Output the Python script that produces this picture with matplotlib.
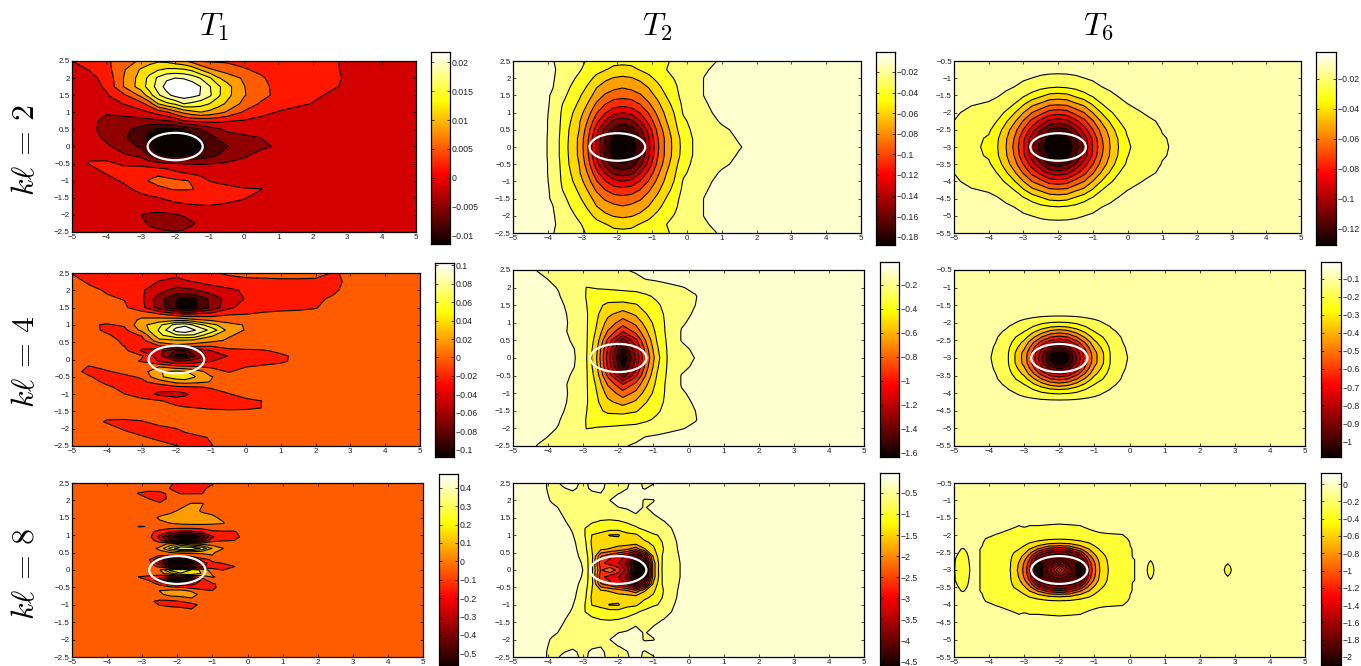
import numpy as np
import matplotlib
matplotlib.use('Agg')
import matplotlib.pyplot as plt
from matplotlib.patches import Ellipse

plt.rcParams['font.family'] = ['Liberation Sans', 'DejaVu Sans']
plt.rcParams['mathtext.fontset'] = 'cm'

# values, on small grids
# T1, kl=2 (in 1e-3)
t1k2_x = [-5, -4.5, -4, -3.5, -3, -2.75, -2.5, -2.25, -2, -1.75, -1.5, -1.25, -1, -.75, -.5, 0, .5, 1, 2, 3, 5]
t1k2_y = [2.5, 2.25, 2, 1.75, 1.5, 1.25, 1, .75, .5, .25, 0, -.25, -.5, -.75, -1, -1.25, -1.5, -1.75, -2, -2.25, -2.5]
t1k2_z = [
    [.6, 1.5, 3.2, 5, 7.2, 8.5, 9.3, 9, 8, 7, 5.4, 3.5, 3.2, 3.2, 3.2, 2.8, 2.3, 2, 1.5, .3, -1],
    [-.2, .7, 2.5, 6.3, 10, 11.3, 12.4, 13.2, 13.3, 13, 11.8, 9.3, 7.2, 6, 5.2, 3.9, 3, 2.2, 1.7, .3, -1],
    [-1, -.2, 1.5, 6.7, 11, 13.5, 16.3, 18.2, 18.8, 18.5, 17.5, 15.5, 13.2, 10, 8.5, 6.2, 4, 2.5, 1.7, .4, -1],
    [-1, -.5, 1, 6.7, 11.2, 14, 17, 20, 21.3, 21.8, 20.5, 18.7, 16, 13.4, 10.8, 6.8, 4.5, 2.7, 1.8, .2, -1],
    [-1, -.9, .3, 3, 7.4, 11.4, 15.2, 17.8, 19.8, 20.5, 19.8, 18.6, 16.3, 13.3, 10.7, 6.9, 4.7, 2.7, 1.1, -.5, -1],
    [-1, -1, -.5, .7, 2.6, 5, 9.7, 11.9, 13.2, 15.8, 15, 14, 12.7, 11, 9.2, 5.8, 3.2, 1.9, .5, -1, -1],
    [-1, -1.5, -2.2, -1.5, -.3, .6, 1.8, 3.2, 5.5, 7.4, 8.8, 9.6, 8.8, 7.6, 6.3, 3.2, 1.5, .4, -.3, -1, -1],
    [-1, -1.8, -3, -3.4, -3.7, -3.4, -3, -2.6, -1.8, .6, 1.1, 1.4, 1.5, 1.3, .8, .4, -.3, -1, -1, -1, -1],
    [-1, -1.5, -3.6, -4.7, -6.5, -8, -9, -9.3, -9, -8.5, -7, -5.4, -3.9, -2.8, -1.9, -1.2, -1, -1, -1, -1, -1],
    [-1, -1.2, -3, -5, -7.5, -9.5, -10.8, -11.3, -11.4, -11, -10, -8.5, -6.8, -5.2, -3.8, -3.1, -2.4, -1.4, -1, -1, -1],
    [-1, -1, -1.9, -3.6, -6, -8, -10, -11, -11.4, -11, -10.5, -9, -8, -6.8, -5.6, -3.7, -3, -2, -1, -1, -1],
    [-1, .4, -.6, -2.1, -3.2, -6, -8.5, -9.3, -9.5, -9.2, -8.6, -7.6, -6.6, -5.4, -4.2, -2.9, -1.5, -1, -1, -1, -1],
    [-.8, .7, 1.2, .2, -.2, -.9, -1.6, -2, -2.3, -2.5, -2.6, -2.6, -2.5, -2.3, -2.1, -1.5, -1, -1, -1, -1, -1],
    [-1, -.5, .9, 1.8, 2.5, 2.7, 2.9, 2.2, 1, .3, -.3, -.6, -.9, -1, -1, -1, -1, -1, -1, -1, -1],
    [-1, -1, -.4, 1, 2.8, 3.8, 4.5, 4.4, 4.2, 3.8, 3.5, 2, .5, .2, 0, -.5, -1, -1, -1, -1, -1],
    [-1, -1, -1, -.3, 1.5, 2.2, 3, 3.5, 3.8, 3.8, 3.7, 3.1, 2, 1.5, 1.2, .8, .7, -1, -1, -1, -1],
    [-1, -1, -1, -1, -.3, .1, .5, 1, 1.5, 1.8, 2, 1.8, 1.6, 1.3, 1.1, .8, -.5, -1, -1, -1, -1],
    [-1, -1, -1, -1, -1, -1, -1, -.6, -.2, 0, .2, .4, .5, .4, .3, -.3, -1, -1, -1, -1, -1],
    [-1, -1, -1, -1.5, -2.4, -2.8, -3, -2.9, -2.6, -2.2, -1.8, -1.3, -1, -1, -1, -1, -1, -1, -1, -1, -1],
    [-1, -1, -1, -1, -1.8, -2.8, -3.5, -3.8, -3.8, -3.3, -2.6, -2, -1.4, -1, -1, -1, -1, -1, -1, -1, -1],
    [-1, -1, -1, -1, -1, -1.4, -1.8, -2.1, -2.3, -2.1, -1.9, -1.4, -1, -1, -1, -1, -1, -1, -1, -1, -1],
]

# T1, kl=4 (in 1e-3)
t1k4_x = [-5, -4.5, -4, -3.5, -3, -2.5, -2, -1.75, -1.5, -1, -.5, 0, .5, 1, 1.5, 2, 2.5, 3, 5]
t1k4_y = [2.5, 2.25, 2, 1.75, 1.5, 1.3, 1.15, 1, .85, .7, .55, .4, .25, .1, -.05, -.2, -.35, -.5, -.65, -.8, -1, -1.2, -1.4, -1.6, -1.8, -2, -2.25, -2.5]
t1k4_z = [
    [-13, -20, -21, -22, -23, -24, -25, -25, -22, -14, -10, -8, -7, -7, -7, -8, -13, -11, -5],
    [-6, -15, -18, -20, -26, -32, -38, -33, -31, -24, -18, -16, -16, -15, -15, -15, -15, -10, -5],
    [-5, -8, -14, -18, -29, -43, -58, -56, -53, -42, -36, -28, -18, -16, -15, -14.5, -14, -9, -5],
    [-5, -6, -10, -13, -27, -62, -88, -94, -92, -64, -42, -30, -17, -15, -15, -14, -11, -7, -5],
    [-5, -5, -6, -9, -25, -60, -90, -100, -95, -65, -36, -22, -15, -14.5, -14.5, -13, -7, -5.5, -5],
    [-5, -5, -5, -7, 0, -8, -22, -28, -26, -22, -13, -12, -11, -10, -9, -8, -6, -5, -5],
    [-5, -5, -6, -3, 10, 14, 18, 16, 10, 2, -4, -5, -5, -5, -5, -5, -5, -5, -5],
    [-5, -10, -14, -10, 20, 40, 72, 78, 62, 32, 14, 5, -4, -5, -5, -5, -5, -5, -5],
    [-5, -6, -16, -17, 12, 47, 92, 100, 86, 58, 19, 5, -4, -5, -5, -5, -5, -5, -5],
    [-5, -5, -10, -19, -11, 40, 62, 63, 62, 30, 9, 1, -4, -5, -5, -5, -5, -5, -5],
    [-5, -5, -7, -15, -20, 20, 24, 24, 21, 13, 4, -3, -5, -5, -5, -5, -5, -5, -5],
    [-5, -5, -5, -13, -28, -12, 2, 0, -3, -10, -7, -6, -5, -5, -5, -5, -5, -5, -5],
    [-5, -5, -5, -6, -33, -45, -72, -75, -62, -32, -16, -15, -14, -9, -6, -5, -5, -5, -5],
    [-5, -5, -5, -5, -10, -42, -95, -95, -72, -40, -31, -17, -16, -15, -9, -5, -5, -5, -5],
    [-5, -5, -5, -5, -14, -33, -50, -48, -42, -32, -22, -17, -16, -15, -8, -5, -5, -5, -5],
    [-6, -13, -7, -5, 3, 5, -8, -10, -12, -16, -14, -13, -11, -8, -5, -5, -5, -5, -5],
    [-5, -18, -14, -8, -3, 25, 30, 28, 20, -3, -13.5, -7, -5, -5, -5, -5, -5, -5, -5],
    [-5, -11, -19, -16, -10, 22, 38, 40, 28, 8, -5, -5, -5, -5, -5, -5, -5, -5, -5],
    [-5, -6, -16, -22, -16, -4, 12, 14, 12, 6, -5, -5, -5, -5, -5, -5, -5, -5, -5],
    [-5, -5, -9, -18, -21, -23, -17, -15, -14, -11, -7, -5.5, -5, -5, -5, -5, -5, -5, -5],
    [-5, -5, -5, -12, -19, -36, -40, -34, -27, -18, -13, -8, -5, -5, -5, -5, -5, -5, -5],
    [-5, -5, -5, -5.5, -8, -10, -20, -25, -20, -18, -16, -15, -12, -5, -5, -5, -5, -5, -5],
    [-5, -5, -5, -5, -5, -5, -8, -10, -12, -14, -15, -14.5, -12, -5, -5, -5, -5, -5, -5],
    [-5, -5, -8, -5, -5, -5, -5, -5, -5, -5, -5, -5, -5, -5, -5, -5, -5, -5, -5],
    [-5, -5, -14, -16, -13.5, -8, -5, -5, -5, -5, -5, -5, -5, -5, -5, -5, -5, -5, -5],
    [-5, -5, -6, -14, -18, -16, -12.5, -8, -5, -5, -5, -5, -5, -5, -5, -5, -5, -5, -5],
    [-5, -5, -5, -5, -11, -15, -18, -18, -16, -11, -5, -5, -5, -5, -5, -5, -5, -5, -5],
    [-5, -5, -5, -5, -5, -8, -12, -13, -14, -13, -6, -5, -5, -5, -5, -5, -5, -5, -5],
]

# T1, kl=8 (in 1e-2)
t1k8_x = [-5, -3.4, -3.1, -2.8, -2.5, -2.2, -1.9, -1.6, -1.3, -1, -.7, -.4, -.1, .2, 5]
t1k8_y = [2.5, 2.35, 2.2, 2.05, 1.9, 1.7, 1.5, 1.35, 1.25, 1.1, .95, .85, .75, .62, .5, .4, .3, .2, .1, 0, -.1, -.2, -.3, -.4, -.5, -.6, -.7, -.8, -.9, -1, -1.1, -1.25, -2.5]
t1k8_z = [
    [0, 0, 0, 0, 0, -4, -8, -9, -9, -6, 0, 0, 0, 0, 0],
    [0, 0, 0, 0, 0, -5.6, -9, -9, -7, -3, 0, 0, 0, 0, 0],
    [0, 0, -6, -9, -8, -3, -5.6, -5.6, -5.6, -1, 0, 0, 0, 0, 0],
    [0, 0, 0, -5.5, -9, -3, 0, 0, 0, 0, 0, 0, 0, 0, 0],
    [0, 0, 0, 0, -4, 1, 2, 6, 6, 1, 0, 0, 0, 0, 0],
    [0, 0, 0, 0, 0, 3, 7, 10, 4, 3, 1, 0, 0, 0, 0],
    [0, 0, 0, 0, 7, 9, 10, 11, 10, 7, 3.5, 0, 0, 0, 0],
    [0, 0, 0, 0, 3, 5.5, 7, 7.5, 7.5, 7, 6, 1, 0, 0, 0],
    [0, 0, -5.6, -5, 0, 1, 2, 2, 2, 2, 1, 0, 0, 0, 0],
    [0, 0, -1, -3, -8, -15, -18, -18, -14, -7, -6, -6, -3, 0, 0],
    [0, 0, 0, -2, -20, -45, -58, -58, -45, -17, -9, -7, -4, 0, 0],
    [0, 0, 0, 0, -12, -35, -50, -50, -30, -8, -6, -5.5, 0, 0, 0],
    [0, 0, 0, 0, 0, 8, 15, 6, 2, 0, 0, 0, 0, 0, 0],
    [0, 0, 0, 0, 8, 30, 47, 47, 35, 15, 5.5, 0, 0, 0, 0],
    [0, 0, 0, 0, 2, 5, 8, 8, 7, 6, 3, 0, 0, 0, 0],
    [0, 0, 0, -2, -6, -8, -6, -3, 1, 5, 2, 0, 0, 0, 0],
    [0, 0, 0, -5, -30, -55, -58, -45, -8, -4, -2, 0, 0, 0, 0],
    [0, 0, 0, 0, -25, -58, -58, -55, -25, -6, -5, 0, 0, 0, 0],
    [0, 0, 0, 0, -8, -30, -35, -30, -18, -12, -7, -6, 0, 0, 0],
    [0, 0, 0, 0, 5, 30, 37, 26, 12, 0, -5.5, 0, 0, 0, 0],
    [0, 0, 0, 0, 1, 12, 25, 26, 15, 4, 0, 0, 0, 0, 0],
    [0, 0, -5.5, -8, -12, -18, -15, -8, -2, 6, 3, 0, 0, 0, 0],
    [0, 0, -1, -5.5, -25, -55, -58, -45, -12, 2, 0, 0, 0, 0, 0],
    [0, 0, 0, 0, -8, -20, -22, -20, -10, -7, -1, 0, 0, 0, 0],
    [0, 0, 0, 0, 0, -2, -5, -8, -10, -8, 0, 0, 0, 0, 0],
    [0, 0, 0, 0, 5.5, 8, 9, 4, -2, -5, 0, 0, 0, 0, 0],
    [0, 0, 0, 0, 3, 10, 11, 11, 1, 0, 0, 0, 0, 0, 0],
    [0, 0, 0, 0, 0, 0, 2, 5.6, 0, 0, 0, 0, 0, 0, 0],
    [0, 0, 0, -3, -8, -7, -5, -2, 0, 0, 0, 0, 0, 0, 0],
    [0, 0, 0, 0, -6, -9, -9, -8, -3, 0, 0, 0, 0, 0, 0],
    [0, 0, 0, 0, 0, -2, -4, -6, 0, 0, 0, 0, 0, 0, 0],
    [0, 0, 0, 0, 0, 0, 0, 0, 0, 0, 0, 0, 0, 0, 0],
    [0, 0, 0, 0, 0, 0, 0, 0, 0, 0, 0, 0, 0, 0, 0],
]

# T2 panels: upper half only, the lower half is the same (in 1e-3 for kl=2)
t2k2_x = [-5, -4.5, -4.1, -3.85, -3.6, -3.35, -3.1, -2.85, -2.6, -2.35, -2.1, -1.85, -1.6, -1.35, -1.1, -.85, -.6, -.35, -.1, .15, .5, 1, 1.5, 2, 3, 5]
t2k2_y = [0, .25, .5, .75, 1, 1.25, 1.5, 1.75, 2, 2.25, 2.5]
t2k2_z = [
    [-8, -10, -14, -21, -36, -52, -66, -94, -130, -165, -181, -186, -181, -165, -130, -98, -74, -57, -42, -32, -28, -22, -17, -12, -10, -8],
    [-8, -10, -14, -21, -36, -51, -66, -92, -127, -158, -178, -180, -178, -158, -127, -96, -74, -56, -41, -32, -27, -21, -15, -12, -10, -8],
    [-8, -10, -14, -20, -35, -50, -63, -87, -119, -147, -165, -172, -165, -147, -119, -91, -70, -52, -38, -30, -25, -18, -14, -11, -10, -8],
    [-8, -10, -14, -20, -34, -47, -61, -80, -105, -127, -146, -150, -146, -127, -105, -83, -64, -49, -35, -27, -21, -15, -13, -11, -10, -8],
    [-8, -10, -14, -19, -33, -44, -56, -72, -93, -109, -120, -125, -120, -109, -93, -75, -59, -46, -30, -24, -18, -14, -12, -11, -10, -8],
    [-8, -10, -14, -18, -31, -40, -50, -64, -81, -94, -102, -104, -102, -94, -81, -67, -53, -42, -28, -21, -17, -13, -12, -11, -10, -8],
    [-8, -10, -14, -17.5, -28, -35, -45, -56, -70, -81, -87, -89, -87, -81, -70, -59, -47, -37, -26, -19, -16, -13, -12, -11, -10, -8],
    [-8, -10, -14, -16, -25, -32, -40, -49, -62, -69, -74, -77, -74, -69, -62, -51, -42, -34, -26, -19, -16, -13, -12, -11, -10, -8],
    [-8, -10.5, -13, -15, -22, -28, -35, -43, -51, -60, -64, -66, -64, -60, -51, -44, -36, -31, -26, -19, -16, -14, -12, -11, -10, -8],
    [-8, -12, -13.5, -15, -19, -25, -30, -37, -43, -46.5, -52, -53, -52, -46.5, -43, -38, -32, -29, -26, -19, -17, -14, -12, -11, -10, -8],
    [-8, -14, -15, -16, -18, -24, -29, -33, -38, -41, -42, -43, -42, -41, -38, -34, -33, -30, -26, -20, -18, -15.5, -12, -11, -10, -8],
]

t2k4_x = [-5, -4.3, -3.7, -3.2, -2.9, -2.6, -2.3, -1.87, -1.5, -1.2, -.9, -.6, -.2, .2, .6, 2, 5]
t2k4_y = [0, .25, .5, .75, 1, 1.25, 1.5, 1.75, 2, 2.25, 2.5]
t2k4_z = [
    [-.05, -.07, -.10, -.148, -.28, -.57, -1.02, -1.63, -1.23, -.79, -.47, -.275, -.21, -.14, -.11, -.06, -.04],
    [-.05, -.07, -.105, -.15, -.275, -.55, -.98, -1.53, -1.15, -.74, -.44, -.27, -.18, -.12, -.10, -.06, -.04],
    [-.05, -.07, -.11, -.165, -.27, -.50, -.85, -1.3, -1.0, -.66, -.41, -.26, -.14, -.11, -.09, -.06, -.04],
    [-.05, -.07, -.115, -.18, -.27, -.45, -.70, -.96, -.78, -.57, -.38, -.25, -.14, -.11, -.09, -.06, -.04],
    [-.05, -.07, -.12, -.17, -.27, -.42, -.60, -.76, -.65, -.49, -.36, -.25, -.155, -.125, -.09, -.06, -.04],
    [-.05, -.075, -.125, -.17, -.27, -.40, -.52, -.61, -.53, -.42, -.33, -.25, -.17, -.135, -.09, -.06, -.04],
    [-.05, -.08, -.13, -.18, -.28, -.39, -.44, -.46, -.43, -.36, -.30, -.24, -.18, -.145, -.10, -.06, -.04],
    [-.05, -.09, -.14, -.20, -.29, -.35, -.36, -.34, -.33, -.30, -.26, -.21, -.17, -.15, -.10, -.06, -.04],
    [-.055, -.11, -.15, -.22, -.285, -.27, -.26, -.25, -.24, -.22, -.19, -.17, -.15, -.13, -.09, -.06, -.04],
    [-.06, -.125, -.17, -.18, -.19, -.19, -.19, -.19, -.17, -.14, -.13, -.12, -.11, -.10, -.08, -.06, -.04],
    [-.06, -.15, -.17, -.17, -.17, -.17, -.17, -.155, -.13, -.11, -.10, -.10, -.09, -.08, -.07, -.06, -.04],
]

t2k8_x = [-5, -4.5, -4.2, -3.9, -3.6, -3.3, -3, -2.75, -2.5, -2.25, -2, -1.75, -1.5, -1.25, -1, -.75, -.5, -.25, 0, .5, 5]
t2k8_y = [0, .2, .4, .6, .8, 1, 1.2, 1.4, 1.6, 1.8, 2, 2.2, 2.35, 2.5]
t2k8_z = [
    [-.05, -.07, -.1, -.14, -.2, -.3, -.42, -1.1, -2.4, -2.0, -2.5, -3.3, -4.6, -4.3, -1.75, -.78, -.58, -.42, -.3, -.2, -.05],
    [-.05, -.07, -.1, -.14, -.2, -.3, -.44, -1.1, -2.6, -2.9, -3.1, -3.6, -4.6, -4.2, -1.75, -.8, -.58, -.42, -.3, -.2, -.05],
    [-.05, -.07, -.1, -.14, -.2, -.31, -.5, -1.1, -2.3, -2.6, -2.9, -3.2, -3.9, -3.2, -1.5, -.8, -.56, -.4, -.3, -.2, -.05],
    [-.05, -.07, -.1, -.14, -.21, -.33, -.55, -1.2, -1.5, -1.6, -1.7, -1.9, -2.2, -1.6, -1.25, -.85, -.52, -.38, -.3, -.2, -.05],
    [-.05, -.07, -.1, -.15, -.23, -.35, -.6, -1.25, -1.3, -1.3, -1.4, -1.3, -1.3, -1.25, -1.1, -.8, -.48, -.38, -.3, -.2, -.05],
    [-.05, -.07, -.1, -.16, -.26, -.4, -.7, -1.2, -1.3, -1.6, -1.62, -1.3, -1.25, -1.0, -.85, -.75, -.45, -.36, -.28, -.2, -.05],
    [-.05, -.07, -.1, -.18, -.3, -.45, -.76, -.95, -1.0, -1.0, -1.0, -.95, -.85, -.72, -.6, -.52, -.42, -.34, -.27, -.2, -.05],
    [-.05, -.07, -.11, -.22, -.36, -.52, -.65, -.75, -.82, -.85, -.82, -.75, -.65, -.55, -.47, -.43, -.37, -.3, -.25, -.18, -.05],
    [-.05, -.075, -.13, -.27, -.42, -.55, -.58, -.62, -.65, -.62, -.6, -.52, -.42, -.44, -.42, -.35, -.3, -.25, -.2, -.15, -.05],
    [-.05, -.08, -.17, -.34, -.47, -.52, -.55, -.55, -.52, -.5, -.42, -.38, -.36, -.43, -.36, -.28, -.24, -.2, -.17, -.13, -.05],
    [-.05, -.085, -.24, -.45, -.5, -.5, -.5, -.48, -.46, -.42, -.3, -.28, -.3, -.44, -.43, -.28, -.2, -.17, -.15, -.12, -.05],
    [-.05, -.09, -.3, -.48, -.5, -.47, -.5, -.46, -.42, -.46, -.42, -.38, -.3, -.3, -.28, -.22, -.18, -.15, -.13, -.1, -.05],
    [-.05, -.1, -.32, -.5, -.44, -.36, -.5, -.36, -.36, -.5, -.5, -.42, -.33, -.44, -.32, -.2, -.16, -.13, -.11, -.09, -.05],
    [-.05, -.1, -.32, -.5, -.38, -.3, -.5, -.33, -.33, -.5, -.5, -.45, -.3, -.48, -.44, -.2, -.15, -.12, -.1, -.08, -.05],
]

# T6 panels: y from -3 upwards only, the part below -3 is the same (in 1e-3 for kl=2)
t6k2_x = [-5, -4.5, -4, -3.75, -3.5, -3.25, -3, -2.75, -2.5, -2.25, -2, -1.75, -1.5, -1.25, -1, -.75, -.5, -.25, 0, .5, 1, 2, 5]
t6k2_y = [-3, -2.75, -2.5, -2.25, -2, -1.75, -1.5, -1.25, -1, -.75, -.5]
t6k2_z = [
    [-15, -21, -26, -34, -45, -59, -77, -96, -116, -127, -131, -127, -116, -96, -77, -59, -45, -34, -25, -18, -13.5, -10.5, -9],
    [-14.7, -20.5, -25, -33, -44, -57, -75, -94, -111, -124, -127, -124, -111, -94, -75, -57, -44, -33, -24, -17.5, -13.3, -10.5, -9],
    [-14, -19, -22, -29, -40, -52, -67, -83, -98, -111, -116, -111, -98, -83, -67, -52, -40, -29, -22, -16, -12.7, -10, -9],
    [-13, -16.5, -20, -24, -33, -44, -57, -70, -81, -91, -94, -91, -81, -70, -57, -44, -33, -24, -19, -14.5, -12, -9.5, -8.5],
    [-12, -14.5, -16, -20, -25, -34, -45, -56, -63, -71, -73, -71, -63, -56, -45, -34, -25, -20, -15.5, -12.5, -10.5, -9, -8],
    [-11, -12.5, -13.5, -15.5, -19, -24, -33, -42, -47, -53, -54, -53, -47, -42, -33, -24, -19, -15.5, -13, -11, -9.5, -8.5, -8],
    [-10, -11, -11.5, -12.3, -14.5, -17.5, -22, -27, -32, -37, -38, -37, -32, -27, -22, -17.5, -14.5, -12.3, -11, -9.5, -9, -8, -7],
    [-9, -9.5, -10, -10, -11.5, -13, -15, -18, -20.5, -22, -23, -22, -20.5, -18, -15, -13, -11.5, -10, -9.5, -9, -8, -7.5, -7],
    [-8.5, -9, -9, -9, -9.5, -10.5, -12, -13, -14, -14.7, -15, -14.7, -14, -13, -12, -10.5, -9.5, -9, -8.5, -8, -7.5, -7, -6.5],
    [-8, -8.5, -8.5, -8.8, -9, -9.5, -10, -10.5, -10.8, -11, -11, -11, -10.8, -10.5, -10, -9.5, -9, -8.8, -8.3, -7.7, -7.5, -7, -6.5],
    [-7.5, -8, -8, -7.8, -8, -8.4, -8.6, -8.8, -8.9, -9, -9, -9, -8.9, -8.8, -8.6, -8.4, -8, -7.8, -7.5, -7.2, -7, -6.7, -6.2],
]

t6k4_x = [-5, -4.5, -4, -3.5, -3, -2.75, -2.5, -2.25, -2, -1.75, -1.5, -1.25, -1, -.5, 0, 1, 3, 5]
t6k4_y = [-3, -2.85, -2.7, -2.55, -2.4, -2.25, -2.1, -1.95, -1.8, -1.6, -1.3, -.5]
t6k4_z = [
    [-.04, -.05, -.09, -.165, -.405, -.59, -.817, -1.02, -1.087, -1.02, -.817, -.59, -.405, -.165, -.09, -.04, -.03, -.02],
    [-.04, -.05, -.085, -.163, -.40, -.57, -.78, -.985, -1.04, -.985, -.78, -.57, -.40, -.163, -.085, -.04, -.03, -.02],
    [-.04, -.05, -.08, -.155, -.35, -.52, -.70, -.85, -.92, -.85, -.70, -.52, -.35, -.155, -.08, -.04, -.03, -.02],
    [-.04, -.05, -.072, -.14, -.30, -.44, -.58, -.69, -.73, -.69, -.58, -.44, -.30, -.14, -.072, -.04, -.03, -.02],
    [-.04, -.05, -.066, -.13, -.24, -.345, -.455, -.54, -.57, -.54, -.455, -.345, -.24, -.13, -.066, -.04, -.03, -.02],
    [-.04, -.05, -.06, -.11, -.188, -.26, -.33, -.395, -.42, -.395, -.33, -.26, -.188, -.11, -.06, -.04, -.03, -.02],
    [-.038, -.05, -.056, -.09, -.15, -.185, -.225, -.26, -.275, -.26, -.225, -.185, -.15, -.09, -.056, -.038, -.03, -.02],
    [-.036, -.045, -.05, -.07, -.11, -.13, -.15, -.16, -.165, -.16, -.15, -.13, -.11, -.07, -.05, -.036, -.03, -.02],
    [-.034, -.04, -.045, -.058, -.072, -.08, -.088, -.093, -.095, -.093, -.088, -.08, -.072, -.058, -.045, -.034, -.03, -.02],
    [-.032, -.036, -.042, -.05, -.055, -.058, -.06, -.061, -.062, -.061, -.06, -.058, -.055, -.05, -.042, -.032, -.03, -.02],
    [-.03, -.034, -.038, -.042, -.045, -.046, -.047, -.048, -.048, -.048, -.047, -.046, -.045, -.042, -.038, -.03, -.03, -.02],
    [-.03, -.03, -.03, -.03, -.03, -.03, -.03, -.03, -.03, -.03, -.03, -.03, -.03, -.03, -.03, -.03, -.03, -.02],
]

t6k8_x = [-5, -4.75, -4.5, -4.2, -3.8, -3.4, -3.15, -3, -2.85, -2.6, -2.3, -2, -1.7, -1.4, -1.15, -1, -.85, -.6, -.2, .1, .45, .6, .75, 2.65, 2.8, 2.95, 5]
t6k8_y = [-3, -2.9, -2.8, -2.7, -2.6, -2.5, -2.4, -2.3, -2.2, -2.1, -1.95, -1.75, -1.5, -.5]
t6k8_z = [
    [-.09, -.16, -.08, -.1, -.2, -.32, -.6, -.85, -1.2, -2.1, -1.6, -.75, -1.6, -2.1, -1.2, -.85, -.55, -.32, -.2, -.1, -.07, -.14, -.07, -.07, -.15, -.07, -.05],
    [-.09, -.15, -.08, -.1, -.2, -.31, -.58, -.83, -1.15, -2.05, -1.7, -1.1, -1.7, -2.05, -1.15, -.83, -.54, -.31, -.2, -.1, -.07, -.13, -.07, -.07, -.12, -.07, -.05],
    [-.09, -.14, -.08, -.1, -.2, -.31, -.56, -.8, -1.1, -1.95, -1.8, -1.55, -1.8, -1.95, -1.1, -.8, -.52, -.3, -.19, -.1, -.07, -.11, -.07, -.07, -.09, -.07, -.05],
    [-.09, -.13, -.08, -.1, -.19, -.3, -.5, -.72, -1.0, -1.75, -1.85, -1.85, -1.85, -1.75, -1.0, -.72, -.48, -.29, -.18, -.1, -.07, -.09, -.07, -.07, -.07, -.07, -.05],
    [-.085, -.12, -.08, -.1, -.19, -.29, -.44, -.62, -.85, -1.5, -1.75, -1.8, -1.75, -1.5, -.85, -.62, -.42, -.27, -.17, -.09, -.07, -.07, -.07, -.07, -.07, -.07, -.05],
    [-.08, -.11, -.08, -.1, -.18, -.28, -.38, -.5, -.68, -1.15, -1.5, -1.6, -1.5, -1.15, -.68, -.5, -.36, -.25, -.16, -.09, -.07, -.07, -.07, -.07, -.07, -.07, -.05],
    [-.08, -.10, -.08, -.1, -.17, -.26, -.32, -.4, -.55, -.8, -1.1, -1.2, -1.1, -.8, -.55, -.4, -.31, -.23, -.15, -.09, -.07, -.07, -.07, -.07, -.07, -.07, -.05],
    [-.07, -.08, -.08, -.095, -.16, -.24, -.29, -.32, -.4, -.55, -.72, -.77, -.72, -.55, -.4, -.32, -.28, -.2, -.14, -.08, -.07, -.07, -.07, -.07, -.07, -.07, -.05],
    [-.07, -.08, -.08, -.09, -.15, -.21, -.25, -.27, -.3, -.36, -.42, -.45, -.42, -.36, -.3, -.27, -.24, -.18, -.13, -.08, -.07, -.07, -.07, -.07, -.07, -.07, -.05],
    [-.07, -.07, -.07, -.085, -.13, -.19, -.2, -.21, -.23, -.26, -.29, -.3, -.29, -.26, -.23, -.21, -.2, -.16, -.12, -.07, -.07, -.07, -.07, -.07, -.07, -.07, -.05],
    [-.07, -.07, -.07, -.07, -.09, -.12, -.14, -.15, -.16, -.19, -.2, -.21, -.2, -.19, -.12, -.11, -.1, -.095, -.09, -.07, -.07, -.07, -.07, -.07, -.07, -.07, -.05],
    [-.07, -.07, -.07, -.07, -.07, -.08, -.1, -.09, -.1, -.1, -.105, -.11, -.105, -.1, -.08, -.07, -.07, -.07, -.07, -.07, -.07, -.07, -.07, -.07, -.07, -.07, -.05],
    [-.06] * 27,
    [-.05] * 27,
]

# colorbar ranges and ticks
t1k2_range = [-.0115, .0218]
t1k4_range = [-.108, .1025]
t1k8_range = [-.58, .475]
t2k2_range = [-.188, -.0006]
t2k4_range = [-1.636, -.01]
t2k8_range = [-4.65, -.03]
t6k2_range = [-.131, -.0022]
t6k4_range = [-1.087, -.008]
t6k8_range = [-2.13, .13]

t1k2_ticks = [.02, .015, .01, .005, 0, -.005, -.01]
t1k4_ticks = [.1, .08, .06, .04, .02, 0, -.02, -.04, -.06, -.08, -.1]
t1k8_ticks = [.4, .3, .2, .1, 0, -.1, -.2, -.3, -.4, -.5]
t2k2_ticks = [-.02, -.04, -.06, -.08, -.1, -.12, -.14, -.16, -.18]
t2k4_ticks = [-.2, -.4, -.6, -.8, -1, -1.2, -1.4, -1.6]
t2k8_ticks = [-.5, -1, -1.5, -2, -2.5, -3, -3.5, -4, -4.5]
t6k2_ticks = [-.02, -.04, -.06, -.08, -.1, -.12]
t6k4_ticks = [-.1, -.2, -.3, -.4, -.5, -.6, -.7, -.8, -.9, -1]
t6k8_ticks = [0, -.2, -.4, -.6, -.8, -1, -1.2, -1.4, -1.6, -1.8, -2]

xticks = [-5, -4, -3, -2, -1, 0, 1, 2, 3, 4, 5]
yticks_mid = [-2.5, -2, -1.5, -1, -.5, 0, .5, 1, 1.5, 2, 2.5]
yticks_low = [-5.5, -5, -4.5, -4, -3.5, -3, -2.5, -2, -1.5, -1, -.5]

W, H = 1361, 666
fig = plt.figure(figsize=(W / 100, H / 100), dpi=100)


def box(x0, x1, y0, y1):
    # pixel box (y from the top) to figure fraction
    return [x0 / W, 1 - y1 / H, (x1 - x0) / W, (y1 - y0) / H]


def lab(v):
    return ('%g' % v).replace('-', '\u2212')


def mirror(y, z, c):
    y = np.array(y, float)
    z = np.array(z, float)
    return np.r_[2 * c - y[:0:-1], y], np.vstack([z[:0:-1], z])


def panel(x, y, z, rng, n, ftop, ticks, yt, ec, ab, bb):
    ax = fig.add_axes(box(*ab))
    lv = np.linspace(rng[0], rng[1], n + 1)
    lv[0] -= 1
    lv[-1] += 1
    cols = [plt.cm.hot(ftop * i / (n - 1)) for i in range(n)]
    ax.contourf(x, y, z, levels=lv, colors=cols)
    ax.contour(x, y, z, levels=lv[1:-1], colors='k', linewidths=0.8, negative_linestyles='solid')
    ax.add_patch(Ellipse((-2, ec), 1.6, .8, fill=False, ec='white', lw=1.6, zorder=5))
    ax.set_xlim(-5, 5)
    ax.set_ylim(yt[0], yt[-1])
    ax.set_xticks(xticks, [lab(v) for v in xticks])
    ax.set_yticks(yt, [lab(v) for v in yt])
    ax.tick_params(direction='in', top=True, right=True, length=2, width=.5,
                   labelsize=5.8, pad=1.5, labelcolor='#222222')
    for s in ax.spines.values():
        s.set_linewidth(.9)
        s.set_zorder(6)

    cb = fig.add_axes(box(*bb))
    grad = np.linspace(1, 0, 256)[:, None]
    cb.imshow(grad, cmap='hot', aspect='auto', extent=[0, 1, rng[0], rng[1]])
    cb.set_xticks([])
    cb.yaxis.tick_right()
    cb.set_yticks(ticks, [lab(v) for v in ticks])
    cb.tick_params(direction='in', length=2, width=.5, labelsize=6.3, pad=1.5,
                   labelcolor='#222222', left=True, right=True)
    for s in cb.spines.values():
        s.set_linewidth(.9)


y, z = t1k2_y, np.array(t1k2_z) * 1e-3
panel(t1k2_x, y, z, t1k2_range, 11, 1.0, t1k2_ticks, yticks_mid, 0, (72, 416, 61, 232), (431, 450, 52, 244))
y, z = t1k4_y, np.array(t1k4_z) * 1e-3
panel(t1k4_x, y, z, t1k4_range, 11, 1.0, t1k4_ticks, yticks_mid, 0, (72, 420, 273, 446), (435, 454, 263, 457))
y, z = t1k8_y, np.array(t1k8_z) * 1e-2
panel(t1k8_x, y, z, t1k8_range, 10, .9, t1k8_ticks, yticks_mid, 0, (72, 423, 483, 657), (439, 458, 474, 668))

y, z = mirror(t2k2_y, np.array(t2k2_z) * 1e-3, 0)
panel(t2k2_x, y, z, t2k2_range, 12, .95, t2k2_ticks, yticks_mid, 0, (513, 861, 61, 233), (876, 895, 52, 245))
y, z = mirror(t2k4_y, t2k4_z, 0)
panel(t2k4_x, y, z, t2k4_range, 12, .95, t2k4_ticks, yticks_mid, 0, (513, 864, 270, 446), (880, 899, 262, 457))
y, z = mirror(t2k8_y, t2k8_z, 0)
panel(t2k8_x, y, z, t2k8_range, 12, .95, t2k8_ticks, yticks_mid, 0, (513, 864, 483, 657), (880, 899, 473, 668))

y, z = mirror(t6k2_y, np.array(t6k2_z) * 1e-3, -3)
panel(t6k2_x, y, z, t6k2_range, 12, .92, t6k2_ticks, yticks_low, -3, (954, 1301, 61, 233), (1316, 1336, 52, 245))
y, z = mirror(t6k4_y, t6k4_z, -3)
panel(t6k4_x, y, z, t6k4_range, 12, .91, t6k4_ticks, yticks_low, -3, (954, 1305, 270, 446), (1321, 1341, 262, 457))
y, z = mirror(t6k8_y, t6k8_z, -3)
panel(t6k8_x, y, z, t6k8_range, 10, .9, t6k8_ticks, yticks_low, -3, (954, 1305, 483, 657), (1321, 1341, 473, 668))

# column and row titles
fig.text(214 / W, 1 - 27 / H, r'$T_1$', fontsize=23, ha='center', va='center')
fig.text(657 / W, 1 - 27 / H, r'$T_2$', fontsize=23, ha='center', va='center')
fig.text(1098 / W, 1 - 27 / H, r'$T_6$', fontsize=23, ha='center', va='center')
fig.text(26 / W, 1 - 150 / H, r'$k\ell\,=\,2$', fontsize=23, rotation=90, ha='center', va='center')
fig.text(26 / W, 1 - 362 / H, r'$k\ell\,=\,4$', fontsize=23, rotation=90, ha='center', va='center')
fig.text(26 / W, 1 - 574 / H, r'$k\ell\,=\,8$', fontsize=23, rotation=90, ha='center', va='center')

fig.savefig('out.png', dpi=100)
